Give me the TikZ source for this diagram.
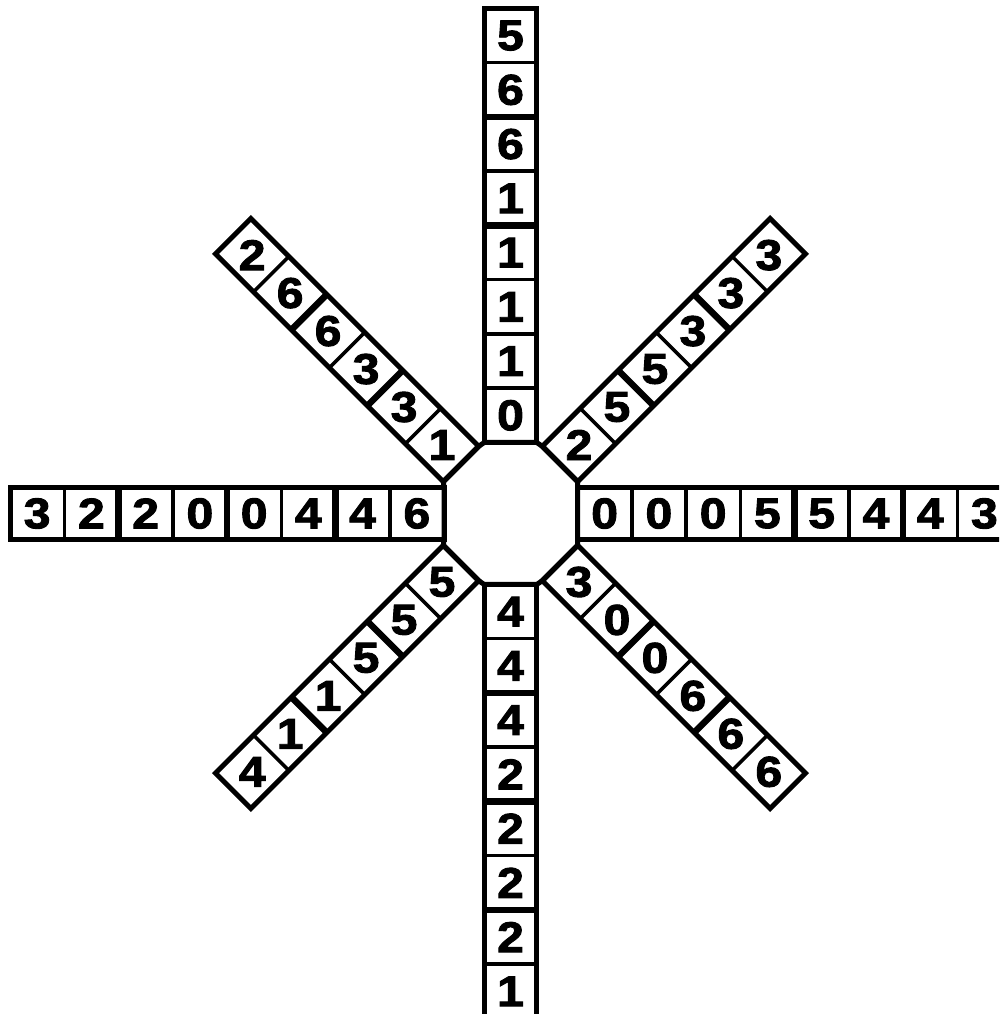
\documentclass[tikz,border=0pt]{standalone}
\usepackage{fontspec}
\newfontfamily\digfont{Liberation Sans}[FakeStretch=1.12, BoldFeatures={FakeBold=2.2}]
\begin{document}
\begin{tikzpicture}[x=1pt,y=1pt,
  frame/.style={line width=5pt, line join=miter},
  thinsep/.style={line width=3.5pt},
  thicksep/.style={line width=6.5pt},
  digit/.style={font=\digfont\bfseries\fontsize{43}{43}\selectfont, inner sep=0pt, anchor=center}]
\useasboundingbox (0,0) rectangle (999,1014);
\clip (0,0) rectangle (999,1014);
\newcommand\drawarm[8]{%
  \begin{scope}[shift={(510.5,500.5)}, rotate=#2]
    \coordinate (#1r) at (#3,{-#5/2});
    \coordinate (#1l) at (#3,{#5/2});
    \foreach \dg [count=\k] in {#7} {
      \node[digit] (#1\k) at ({#3+(\k-0.5)*#4},0) {\dg};
    }
    \foreach \k in {1,...,\numexpr#6-1\relax} {
      \draw[thinsep] ({#3+\k*#4},{-#5/2}) -- ({#3+\k*#4},{#5/2});
    }
    \foreach \k in {#8} {
      \draw[thicksep] ({#3+\k*#4},{-#5/2}) -- ({#3+\k*#4},{#5/2});
    }
    \draw[frame] (#1r) rectangle ({#3+#6*#4},{#5/2});
  \end{scope}}
\drawarm{R}{0}{67}{54.25}{52.5}{8}{0,0,0,5,5,4,4,3}{4,6}
\drawarm{NE}{45}{70}{53.7}{50}{6}{2,5,5,3,3,3}{2,4}
\drawarm{T}{90}{71}{54.25}{52.5}{8}{0,1,1,1,1,6,6,5}{4,6}
\drawarm{NW}{135}{70}{53.7}{50}{6}{1,3,3,6,6,2}{2,4}
\drawarm{L}{180}{66.5}{54.25}{52.5}{8}{6,4,4,0,0,2,2,3}{2,4,6}
\drawarm{SW}{225}{70}{53.7}{50}{6}{5,5,5,1,1,4}{2,4}
\drawarm{B}{270}{71}{54.25}{52.5}{8}{4,4,4,2,2,2,2,1}{2,4,6}
\drawarm{SE}{315}{70}{53.7}{50}{6}{3,0,0,6,6,6}{2,4}
\draw[frame] (Rr)--(Rl)--(NEr)--(NEl)--(Tr)--(Tl)--(NWr)--(NWl)--(Lr)--(Ll)--(SWr)--(SWl)--(Br)--(Bl)--(SEr)--(SEl)--cycle;
\end{tikzpicture}
\end{document}
